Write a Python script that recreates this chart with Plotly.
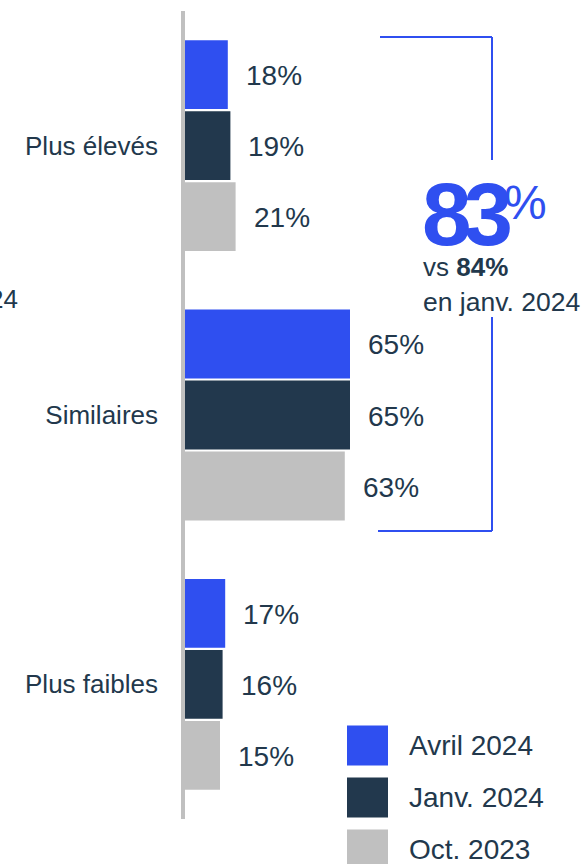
import plotly.graph_objects as go

categories = ["Plus élevés", "Similaires", "Plus faibles"]
series_names = ["Avril 2024", "Janv. 2024", "Oct. 2023"]
avril_2024 = [18, 65, 17]
janv_2024 = [19, 65, 16]
oct_2023 = [21, 63, 15]
series_values = [avril_2024, janv_2024, oct_2023]
colors = ["#2f4ff0", "#22384d", "#c0c0c0"]
text_color = "#22384c"
headline_value = "83"
compare_value = "84%"
compare_label = "en janv. 2024"

W, H = 585, 864
ML, MR, MT, MB = 183, 0, 11, 45
PW, PH = W - ML - MR, H - MT - MB
FONT = "Liberation Sans, Arial, sans-serif"
BARGAP = 0.209
PX_PER_UNIT = 2.6


def px_x(px):
    return (px - ML) / PW


def px_y(py):
    return (H - MB - py) / PH


fig = go.Figure()
for name, vals, col in zip(series_names, series_values, colors):
    fig.add_trace(go.Bar(
        name=name, y=categories, x=vals, orientation="h",
        marker=dict(color=col, line=dict(width=0)),
        showlegend=False, hoverinfo="skip",
    ))

x0 = (ML - 181) / PX_PER_UNIT
fig.update_layout(
    width=W, height=H,
    margin=dict(l=ML, r=MR, t=MT, b=MB, pad=0),
    paper_bgcolor="white", plot_bgcolor="white",
    barmode="group", bargap=BARGAP, bargroupgap=0.03,
    font=dict(family=FONT, color=text_color, size=26),
    xaxis=dict(range=[x0, x0 + PW / PX_PER_UNIT], visible=False, fixedrange=True),
    yaxis=dict(
        type="category", range=[2.5, -0.5], showgrid=False, zeroline=False,
        showline=False, ticks="", ticklabelstandoff=24, fixedrange=True,
        tickfont=dict(size=26, color=text_color, family=FONT),
    ),
    showlegend=False,
)

# vertical axis line
fig.add_shape(type="line", xref="paper", yref="paper", x0=0, x1=0, y0=0, y1=1,
              line=dict(color="#c0c0c0", width=4), layer="above")

# value labels
slot = (1 - BARGAP) / len(series_names)
for k, vals in enumerate(series_values):
    off = (k - (len(series_names) - 1) / 2) * slot
    for i, v in enumerate(vals):
        fig.add_annotation(x=v, y=i + off, xref="x", yref="y", text=f"{v}%",
                           showarrow=False, xanchor="left", yanchor="middle",
                           xshift=16, yshift=-1, font=dict(size=28, color=text_color))

# bracket
blue = colors[0]
for (xa, ya, xb, yb) in [(380, 37, 492, 37), (492, 37, 492, 160),
                         (492, 317, 492, 531), (378, 531, 492, 531)]:
    fig.add_shape(type="line", xref="paper", yref="paper",
                  x0=px_x(xa), y0=px_y(ya), x1=px_x(xb), y1=px_y(yb),
                  line=dict(color=blue, width=2))

fig.add_annotation(xref="paper", yref="paper", x=px_x(420), y=px_y(214),
                   text=f"<span style='letter-spacing:-8px'><b>{headline_value}</b></span>",
                   showarrow=False, xanchor="left", yanchor="middle",
                   font=dict(size=89, color=blue))
fig.add_annotation(xref="paper", yref="paper", x=px_x(502), y=px_y(202),
                   text="%", showarrow=False, xanchor="left", yanchor="middle",
                   font=dict(size=48, color=blue))
fig.add_annotation(xref="paper", yref="paper", x=px_x(421), y=px_y(267),
                   text=f"vs <b>{compare_value}</b>", showarrow=False,
                   xanchor="left", yanchor="middle",
                   font=dict(size=26, color=text_color))
fig.add_annotation(xref="paper", yref="paper", x=px_x(421), y=px_y(302),
                   text=compare_label, showarrow=False,
                   xanchor="left", yanchor="middle",
                   font=dict(size=26.5, color=text_color))

# cut-off text at left edge
fig.add_annotation(xref="paper", yref="paper", x=px_x(20), y=px_y(299),
                   text="24", showarrow=False, xanchor="right", yanchor="middle",
                   font=dict(size=26, color=text_color))

# custom legend
for k, (name, col) in enumerate(zip(series_names, colors)):
    cy = 745.5 + 52 * k
    fig.add_shape(type="rect", xref="paper", yref="paper",
                  x0=px_x(347), x1=px_x(388), y0=px_y(cy - 20), y1=px_y(cy + 20),
                  fillcolor=col, line=dict(width=0))
    fig.add_annotation(xref="paper", yref="paper", x=px_x(407), y=px_y(cy),
                       text=name, showarrow=False, xanchor="left", yanchor="middle",
                       font=dict(size=28, color=text_color))

fig.write_html("out.html", config={"displayModeBar": False, "staticPlot": True},
               post_script="document.body.style.margin='0';document.body.style.overflow='hidden';")
